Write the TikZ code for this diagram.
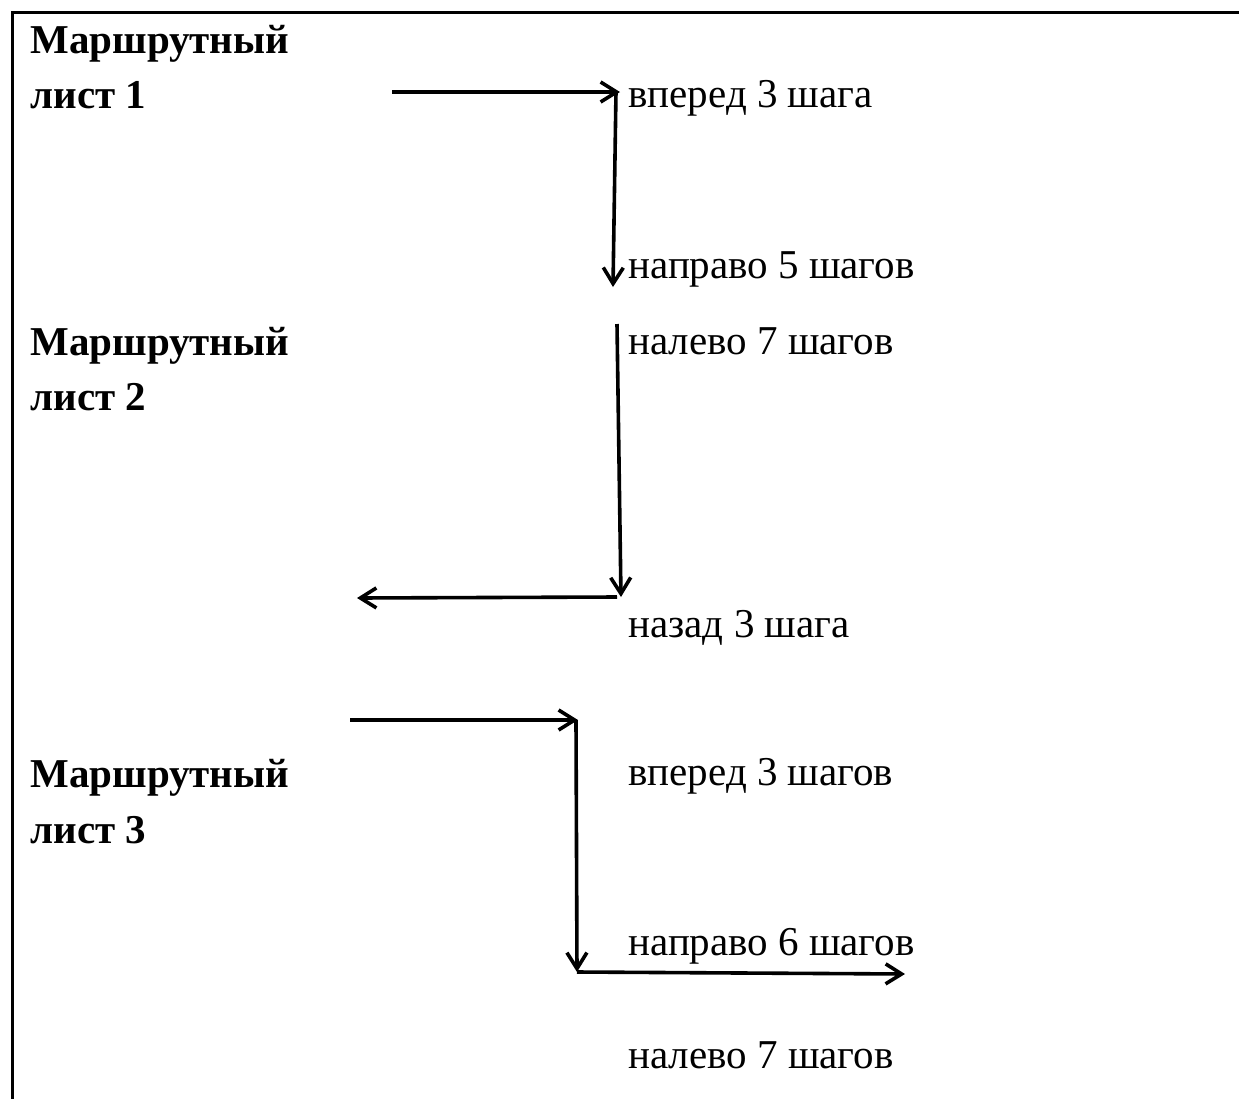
\documentclass[tikz,border=0pt]{standalone}
\usepackage{fontspec}
\setmainfont{Liberation Serif}
\usetikzlibrary{arrows.meta}
\begin{document}
\begin{tikzpicture}[x=0.5pt,y=-0.5pt,
  sheet/.style={anchor=base west,inner sep=0pt,font=\fontsize{20.5}{25}\selectfont\bfseries},
  move/.style={anchor=base west,inner sep=0pt,font=\fontsize{20.5}{25}\selectfont},
  route/.style={line width=1.8pt,-{Straight Barb[length=8pt,width=10pt]}}]
  \useasboundingbox (0,0) rectangle (1239,1099);
  \draw[line width=1.5pt] (1239,12) -- (12,12) -- (12,1099);

  \node[sheet] (m1) at (30,53) {Маршрутный};
  \node[sheet] (l1) at (30,108) {лист 1};
  \node[sheet] (m2) at (30,355) {Маршрутный};
  \node[sheet] (l2) at (30,410) {лист 2};
  \node[sheet] (m3) at (30,787) {Маршрутный};
  \node[sheet] (l3) at (30,843) {лист 3};

  \node[move] (t1) at (628,107) {вперед 3 шага};
  \node[move] (t2) at (628,278) {направо 5 шагов};
  \node[move] (t3) at (628,354) {налево 7 шагов};
  \node[move] (t4) at (628,637) {назад 3 шага};
  \node[move] (t5) at (628,785) {вперед 3 шагов};
  \node[move] (t6) at (628,955) {направо 6 шагов};
  \node[move] (t7) at (628,1068) {налево 7 шагов};

  \coordinate (a0) at (392,92);
  \coordinate (a1) at (620,92);
  \coordinate (a2) at (613,287);
  \coordinate (b0) at (617,324);
  \coordinate (b1) at (621,597);
  \coordinate (b2) at (357,598);
  \coordinate (c0) at (350,720);
  \coordinate (c1) at (578,720);
  \coordinate (c2) at (577,972);
  \coordinate (c3) at (905,974);

  \draw[route] (a0) -- (a1);
  \draw[route] ([xshift=-2]a1) -- (a2);
  \draw[route] (b0) -- (b1);
  \draw[route] ([xshift=-2]b1) -- (b2);
  \draw[route] (c0) -- (c1);
  \draw[route] ([xshift=-1]c1) -- (c2);
  \draw[route] (c2) -- (c3);
\end{tikzpicture}
\end{document}
